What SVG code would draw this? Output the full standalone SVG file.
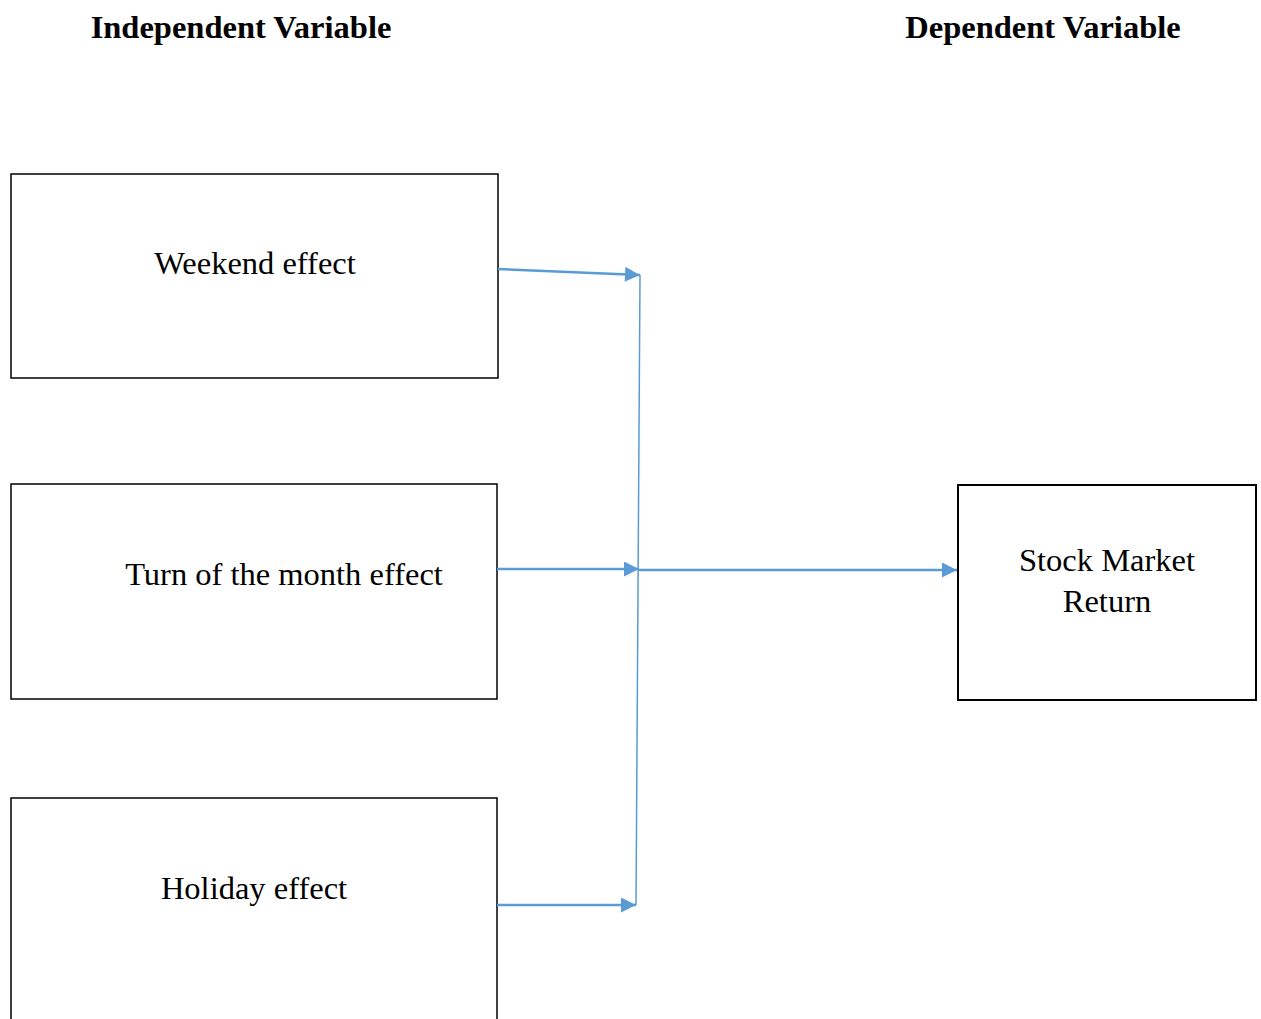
<svg xmlns="http://www.w3.org/2000/svg" width="1261" height="1019" viewBox="0 0 1261 1019">
<style>
.box{fill:#fff;stroke:#000;stroke-width:1.5}
.t{font-family:"Liberation Serif","Times New Roman",serif;font-size:32.5px;fill:#000;text-anchor:middle}
.h{font-family:"Liberation Serif","Times New Roman",serif;font-size:32.5px;font-weight:bold;fill:#000;text-anchor:middle}
.c{stroke:#5B9BD5;stroke-width:2.5;fill:none}
</style>
<defs>
<marker id="ah" viewBox="0 0 10 10" refX="10" refY="5" markerWidth="17" markerHeight="15" markerUnits="userSpaceOnUse" orient="auto">
<path d="M0,0 L10,5 L0,10 Z" fill="#5B9BD5"/>
</marker>
</defs>
<rect width="1261" height="1019" fill="#fff"/>
<g id="titles">
<text class="h" x="241" y="38">Independent Variable</text>
<text class="h" x="1043" y="38">Dependent Variable</text>
</g>
<g id="weekend">
<rect class="box" x="11" y="174" width="487" height="204"/>
<text class="t" x="255" y="274">Weekend effect</text>
</g>
<g id="turn">
<rect class="box" x="11" y="484" width="486" height="215"/>
<text class="t" x="284" y="585">Turn of the month effect</text>
</g>
<g id="holiday">
<rect class="box" x="11" y="798" width="486" height="240"/>
<text class="t" x="254" y="899">Holiday effect</text>
</g>
<g id="stock">
<rect class="box" x="958" y="485" width="298" height="215" style="stroke-width:2"/>
<text class="t" x="1107" y="571">Stock Market</text>
<text class="t" x="1107" y="612">Return</text>
</g>
<g id="connectors">
<line class="c" x1="498" y1="269" x2="640" y2="275" marker-end="url(#ah)"/>
<line class="c" x1="640" y1="275" x2="636" y2="905" style="stroke-width:1.5"/>
<line class="c" x1="497" y1="569" x2="639" y2="569" marker-end="url(#ah)"/>
<line class="c" x1="639" y1="570" x2="957" y2="570" marker-end="url(#ah)"/>
<line class="c" x1="497" y1="905" x2="636" y2="905" marker-end="url(#ah)"/>
</g>
</svg>
